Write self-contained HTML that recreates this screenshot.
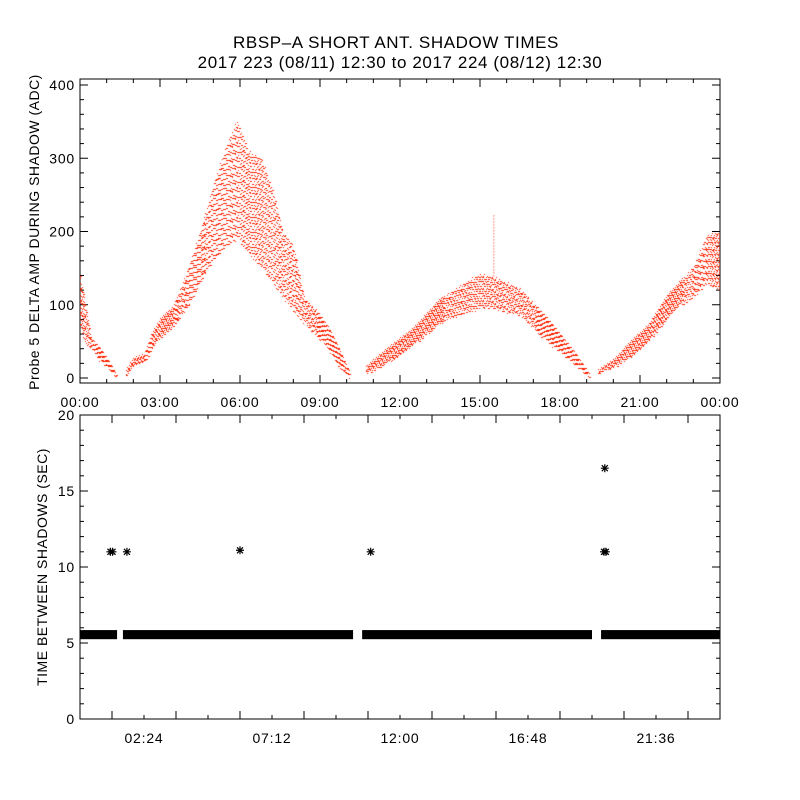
<!DOCTYPE html>
<html><head><meta charset="utf-8"><style>
body{margin:0;background:#fff}
#wrap{position:relative;width:800px;height:800px;background:#fff;font-family:"Liberation Sans",sans-serif}
</style></head><body>
<div id="wrap">
<svg id="svg" width="800" height="800" style="position:absolute;left:0;top:0">
<text x="396" y="48" text-anchor="middle" font-size="17" letter-spacing="0.6" font-family="Liberation Sans, sans-serif">RBSP–A SHORT ANT. SHADOW TIMES</text>
<text x="400" y="68" text-anchor="middle" font-size="17" letter-spacing="0.6" font-family="Liberation Sans, sans-serif">2017 223 (08/11) 12:30 to 2017 224 (08/12) 12:30</text>
<text transform="translate(39,232) rotate(-90)" text-anchor="middle" font-size="14" letter-spacing="0.5">Probe 5 DELTA AMP DURING SHADOW (ADC)</text>
<text transform="translate(47,567) rotate(-90)" text-anchor="middle" font-size="14" letter-spacing="0.5">TIME BETWEEN SHADOWS (SEC)</text>
<g id="axes"></g>
</svg>
<canvas id="cv" width="640" height="304" style="position:absolute;left:80px;top:79px"></canvas>
</div>
<script>
// Top panel envelope data: [hours, low ADC, high ADC]; segments separated by gaps
const seg1 = [[0,70,140],[0.2,45,100],[0.4,40,55],[0.7,25,42],[1.0,15,27],[1.35,0,5]];
const seg2 = [[1.7,0,10],[2.0,15,27],[2.4,20,32],[2.7,40,62],[3.0,55,80],[3.5,70,98],[4.0,95,145],[4.5,130,200],[5.0,160,265],[5.5,180,320],[5.9,190,352],[6.3,170,310],[6.8,150,300],[7.2,130,260],[7.6,110,200],[8.0,90,180],[8.4,75,110],[8.8,60,95],[9.3,40,70],[9.7,15,40],[10.1,0,8]];
const seg3 = [[10.7,5,15],[11.5,20,40],[12.5,45,68],[13.5,75,108],[14.5,90,132],[15.0,95,142],[15.5,95,138],[16.5,85,122],[17.5,50,82],[18.5,20,37],[19.1,0,5]];
const seg4 = [[19.4,5,10],[20.0,15,25],[20.7,30,52],[21.3,50,72],[22.0,80,112],[22.5,100,132],[23.0,110,152],[23.5,130,195],[24.0,120,200]];
const spikeT = [15.5], spikeV = [222];
// Bottom panel data
const bandStarts = [0, 1.61, 10.58, 19.54];
const bandEnds = [1.39, 10.24, 19.2, 24];
const bandLow = 5.25, bandHigh = 5.85;
const starT = [1.14, 1.22, 1.76, 6.0, 10.9, 19.65, 19.72, 19.68];
const starV = [11, 11, 11, 11.1, 11, 11, 11, 16.5];
const topTicks = ["00:00","03:00","06:00","09:00","12:00","15:00","18:00","21:00","00:00"];
const botTicks = ["02:24","07:12","12:00","16:48","21:36"];
const topYTicks = [0,100,200,300,400];
const botYTicks = [0,5,10,15,20];

const X0=80,X1=720;
const xs = h => X0 + h*(X1-X0)/24;
const yTop = v => 378 - v*(378-85)/400;
const yBot = v => 719 - v*(719-415)/20;
const NS="http://www.w3.org/2000/svg";
const g=document.getElementById('axes');
function mk(tag,attrs){const e=document.createElementNS(NS,tag);for(const k in attrs)e.setAttribute(k,attrs[k]);g.appendChild(e);return e;}

let f1=mk('rect',{x:80,y:79,width:640,height:304,fill:'none',stroke:'#000','stroke-width':1});


let f2=mk('rect',{x:80,y:415,width:640,height:304,fill:'none',stroke:'#000','stroke-width':1});



for(let h=0;h<=24;h+=1){const x=xs(h);const L=(h%3==0)?8:4;
 mk('line',{x1:x,y1:383,x2:x,y2:383-L,stroke:'#000'});mk('line',{x1:x,y1:79,x2:x,y2:79+L,stroke:'#000'});}
topTicks.forEach((t,i)=>{const e=mk('text',{x:xs(i*3),y:407,'text-anchor':'middle','font-size':14,'letter-spacing':0.8});e.textContent=t;
 
 });
for(let v=0;v<=400;v+=20){const y=yTop(v);const L=(v%100==0)?8:4;
 mk('line',{x1:80,y1:y,x2:80+L,y2:y,stroke:'#000'});mk('line',{x1:720,y1:y,x2:720-L,y2:y,stroke:'#000'});}
topYTicks.forEach(v=>{const e=mk('text',{x:75,y:yTop(v)+5,'text-anchor':'end','font-size':14,'letter-spacing':0.8});e.textContent=v;
 
 });
for(let h=0;h<=24;h+=1.2){const x=xs(h);const L=(Math.round(h/1.2)%2==0)?4:8;
 mk('line',{x1:x,y1:719,x2:x,y2:719-L,stroke:'#000'});mk('line',{x1:x,y1:415,x2:x,y2:415+L,stroke:'#000'});}
botTicks.forEach((t,i)=>{const e=mk('text',{x:xs(2.4+i*4.8),y:743,'text-anchor':'middle','font-size':14,'letter-spacing':0.8});e.textContent=t;
 
 });
for(let v=0;v<=20;v+=1){const y=yBot(v);const L=(v%5==0)?8:4;
 mk('line',{x1:80,y1:y,x2:80+L,y2:y,stroke:'#000'});mk('line',{x1:720,y1:y,x2:720-L,y2:y,stroke:'#000'});}
botYTicks.forEach(v=>{const e=mk('text',{x:75,y:yBot(v)+5,'text-anchor':'end','font-size':14,'letter-spacing':0.8});e.textContent=v;
 
 });
bandStarts.forEach((s,i)=>{const r=mk('rect',{x:xs(s),y:yBot(bandHigh),width:xs(bandEnds[i])-xs(s),height:yBot(bandLow)-yBot(bandHigh),fill:'#000'});
 
 });
starT.forEach((t,i)=>{const x=xs(t),y=yBot(starV[i]);
 const s=mk('path',{d:`M${x-4},${y}H${x+4}M${x},${y-4}V${y+4}M${x-3},${y-3}L${x+3},${y+3}M${x-3},${y+3}L${x+3},${y-3}`,stroke:'#000','stroke-width':1.2,fill:'none'});
 
 });

const cv=document.getElementById('cv'),ctx=cv.getContext('2d');
ctx.fillStyle='rgb(255,32,0)';
function interp(seg,h){for(let i=0;i<seg.length-1;i++){const a=seg[i],b=seg[i+1];if(h>=a[0]&&h<=b[0]){const f=(h-a[0])/(b[0]-a[0]);return [a[1]+f*(b[1]-a[1]),a[2]+f*(b[2]-a[2])];}}return null;}
[seg1,seg2,seg3,seg4].forEach(seg=>{
 const x0=Math.ceil(xs(seg[0][0])),x1=Math.floor(xs(seg[seg.length-1][0]));
 for(let x=x0;x<=x1;x++){const h=(x-X0)*24/640;const r=interp(seg,h);if(!r)continue;
  const yl=yTop(r[0]),yh=yTop(r[1]);const span=yl-yh;const step=span>60?5:(span>25?4:3);
  let k=0;
  for(let y=yh+((x*3)%step);y<=yl;y+=step){k++;const w=((x+k)%3==0)?2:1;const dy=((x*5+k*7)%3)-1;ctx.fillRect(x-80,Math.round(y+dy)-79,w,1);}}
});
spikeT.forEach((t,i)=>{const x=xs(t);for(let y=yTop(spikeV[i]);y<yTop(140);y+=3)ctx.fillRect(x-80,y-79,1,1);});
</script>
</body></html>
